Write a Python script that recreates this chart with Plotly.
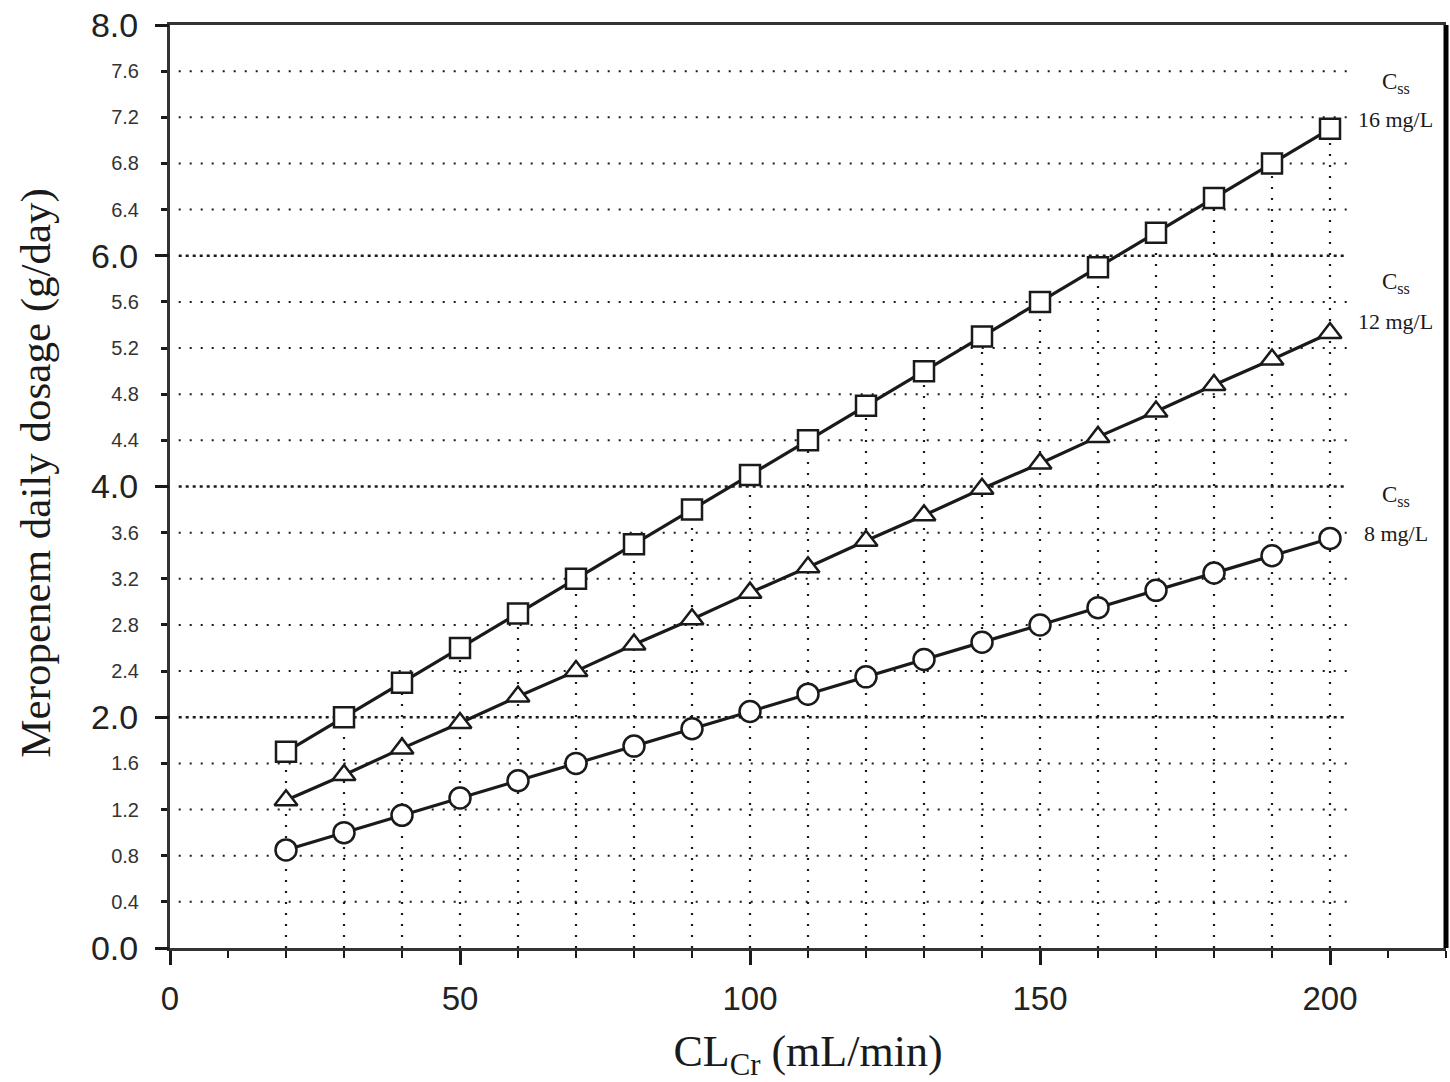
import plotly.graph_objects as go

# Creatinine clearance (mL/min) and meropenem daily dose (g/day) per target Css
clcr = [20, 30, 40, 50, 60, 70, 80, 90, 100, 110, 120, 130, 140, 150, 160, 170, 180, 190, 200]
dose_css16 = [1.70, 2.00, 2.30, 2.60, 2.90, 3.20, 3.50, 3.80, 4.10, 4.40, 4.70, 5.00,
              5.30, 5.60, 5.90, 6.20, 6.50, 6.80, 7.10]
dose_css12 = [1.28, 1.50, 1.73, 1.95, 2.18, 2.40, 2.63, 2.85, 3.08, 3.30, 3.53, 3.75,
              3.98, 4.20, 4.43, 4.65, 4.88, 5.10, 5.33]
dose_css8 = [0.85, 1.00, 1.15, 1.30, 1.45, 1.60, 1.75, 1.90, 2.05, 2.20, 2.35, 2.50,
             2.65, 2.80, 2.95, 3.10, 3.25, 3.40, 3.55]

y_major = [0.0, 2.0, 4.0, 6.0, 8.0]
y_minor = [0.4, 0.8, 1.2, 1.6, 2.4, 2.8, 3.2, 3.6, 4.4, 4.8, 5.2, 5.6,
           6.4, 6.8, 7.2, 7.6]
x_major = [0, 50, 100, 150, 200]

# Right-hand curve labels: (line 1, line 2, y of line 1, y of line 2)
curve_labels = [
    ("C<sub>ss</sub>", "16 mg/L", 7.50, 7.18),
    ("C<sub>ss</sub>", "12 mg/L", 5.76, 5.43),
    ("C<sub>ss</sub>", "8 mg/L", 3.92, 3.59),
]

INK = "#1a1a1a"
SERIF = "Liberation Serif, Times New Roman, serif"
SANS = "Liberation Sans, Arial, sans-serif"

fig = go.Figure()

# dotted drop lines from the top curve down to the x axis
drop_x, drop_y = [], []
for xv, yv in zip(clcr, dose_css16):
    drop_x += [xv, xv, None]
    drop_y += [0, yv, None]
fig.add_trace(go.Scatter(x=drop_x, y=drop_y, mode="lines", hoverinfo="skip",
                         line=dict(color=INK, width=2.2, dash="2px,9px"),
                         showlegend=False))

series = [
    (dose_css16, "square", 20),
    (dose_css12, "triangle-up", 20),
    (dose_css8, "circle", 21),
]
for values, symbol, size in series:
    fig.add_trace(go.Scatter(
        x=clcr, y=values, mode="lines+markers", showlegend=False,
        line=dict(color=INK, width=3.2),
        marker=dict(symbol=symbol, size=size, color="white",
                    line=dict(color=INK, width=2.5)),
    ))

# horizontal dotted grid stopping just past the last clearance value
shapes = []
for v in y_minor + y_major[1:-1]:
    major = v in y_major
    shapes.append(dict(type="line", xref="x", yref="y", x0=1.5, x1=203, y0=v, y1=v,
                       layer="below",
                       line=dict(color=INK, width=2.6 if major else 2.0,
                                 dash="3px,4px" if major else "2px,9px")))
# heavy right frame edge
shapes.append(dict(type="line", xref="paper", yref="paper", x0=1, x1=1, y0=0, y1=1,
                   line=dict(color="black", width=5)))

annotations = []
for top, bottom, y1, y2 in curve_labels:
    annotations.append(dict(x=211.3, y=y1, xref="x", yref="y", text=top, showarrow=False,
                            font=dict(family=SERIF, size=23, color=INK)))
    annotations.append(dict(x=211.3, y=y2, xref="x", yref="y", text=bottom, showarrow=False,
                            font=dict(family=SERIF, size=22, color=INK)))

# y-axis title, set slightly above the plot's vertical centre
annotations.append(dict(x=-0.105, y=0.515, xref="paper", yref="paper",
                        text="Meropenem daily dosage (g/day)", textangle=-90,
                        showarrow=False, xanchor="center", yanchor="middle",
                        font=dict(family=SERIF, size=43, color=INK)))

fig.update_layout(
    width=1450, height=1082,
    margin=dict(l=170, r=4, t=25, b=134),
    paper_bgcolor="white", plot_bgcolor="white",
    shapes=shapes, annotations=annotations,
    xaxis=dict(
        range=[0, 220], tickvals=x_major, ticktext=[str(v) for v in x_major],
        ticks="outside", ticklen=14, tickwidth=2.5, tickcolor=INK,
        minor=dict(dtick=10, tick0=0, ticks="outside", ticklen=7, tickwidth=2, tickcolor=INK),
        showline=True, linewidth=3, linecolor="#333", mirror=True,
        showgrid=False, zeroline=False,
        tickfont=dict(family=SANS, size=33, color="#222"),
        ticklabelstandoff=5,
        title=dict(text="CL<sub>Cr</sub> (mL/min)", standoff=22,
                   font=dict(family=SERIF, size=44, color=INK)),
    ),
    # small labels every 0.4 g/day
    yaxis=dict(
        range=[0, 8], tickvals=y_minor, ticktext=[f"{v:.1f}" for v in y_minor],
        ticks="outside", ticklen=6, tickwidth=2.5, tickcolor=INK,
        showline=True, linewidth=3, linecolor="#333",
        showgrid=False, zeroline=False,
        tickfont=dict(family=SANS, size=20, color="#333"),
        ticklabelstandoff=18,
    ),
    # large labels and long ticks every 2 g/day
    yaxis2=dict(
        range=[0, 8], overlaying="y", anchor="x", side="left",
        tickvals=y_major, ticktext=[f"{v:.1f}" for v in y_major],
        ticks="outside", ticklen=14, tickwidth=2.5, tickcolor=INK,
        tickfont=dict(family=SANS, size=34, color="#222"),
        ticklabelstandoff=10,
        showgrid=False, zeroline=False, showline=False,
    ),
)

# an invisible trace so the major-tick overlay axis is rendered
fig.add_trace(go.Scatter(x=[None], y=[None], yaxis="y2", showlegend=False, hoverinfo="skip"))

fig.write_html("out.html")
